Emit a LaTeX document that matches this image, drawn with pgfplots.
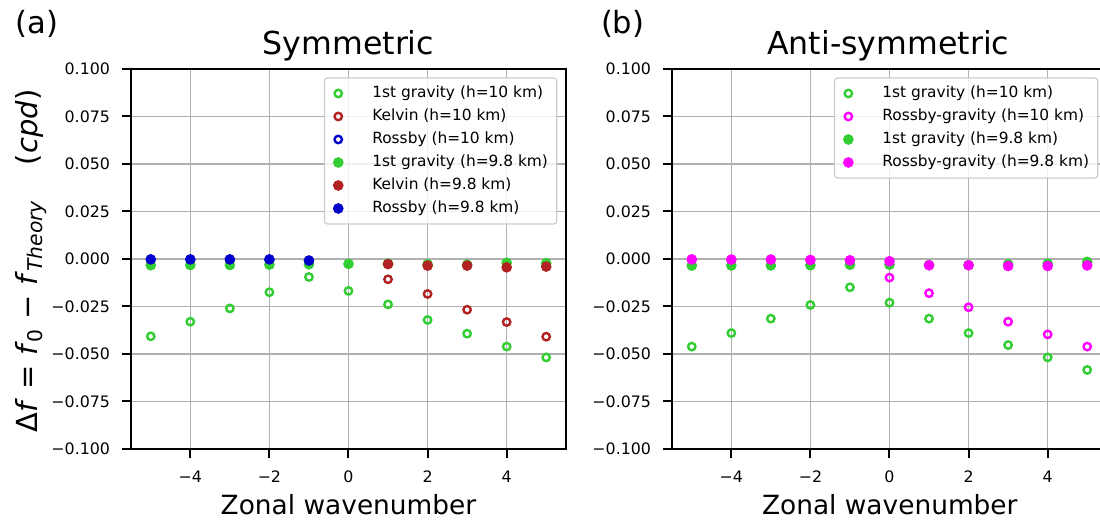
\documentclass[border=0pt]{standalone}
\usepackage{pgfplots}
\pgfplotsset{compat=1.18}
\usepackage{fontspec}
\setmainfont{DejaVu Sans}
\definecolor{lgreen}{RGB}{50,205,50}
\definecolor{fbrick}{RGB}{178,34,34}
\definecolor{mblue}{RGB}{0,0,205}
\definecolor{mgnt}{RGB}{255,0,255}
\definecolor{gridgray}{RGB}{176,176,176}
\newcommand{\tickfont}{\fontsize{7.9}{9.5}\selectfont}
\newcommand{\legfont}{\fontsize{7.7}{9.2}\selectfont}
\newcommand{\labfont}{\fontsize{13.2}{16}\selectfont}
\newcommand{\ylabfont}{\fontsize{14.5}{17}\selectfont}
\newcommand{\titfont}{\fontsize{15.8}{19}\selectfont}
\newcommand{\panfont}{\fontsize{15.3}{18}\selectfont}
\pgfplotsset{
  myaxis/.style={
    scale only axis, width=217.5pt, height=190pt,
    xmin=-5.5, xmax=5.5, ymin=-0.1, ymax=0.1,
    xtick={-4,-2,0,2,4}, xticklabels={−4,−2,0,2,4},
    ytick={-0.1,-0.075,-0.05,-0.025,0,0.025,0.05,0.075,0.1},
    yticklabels={−0.100,−0.075,−0.050,−0.025,0.000,0.025,0.050,0.075,0.100},
    grid=major, grid style={gridgray, line width=0.8pt},
    axis line style={line width=1.1pt},
    tick align=outside, major tick length=4.6pt, tick pos=left,
    tick style={black, line width=1.0pt},
    ticklabel style={font=\tickfont},
    yticklabel style={xshift=-2.4pt},
    xticklabel style={yshift=-2.8pt},
    legend cell align=left,
    legend image code/.code={\draw[mark repeat=2,mark phase=2,#1,fill opacity=1,draw opacity=1] plot coordinates {(0pt,0pt) (7pt,0pt) (14pt,0pt)};},
    legend style={at={(1,1)}, anchor=north east, xshift=-4.3pt, yshift=-4.2pt,
      draw=black!20, line width=0.6pt, fill=white, fill opacity=0.8, text opacity=1, draw opacity=1,
      rounded corners=1.5pt, font=\legfont, row sep=0.6pt, column sep=14.5pt, inner xsep=4.4pt, inner ysep=2.3pt,
      nodes={inner xsep=0pt, inner ysep=1.5pt, text height=6pt, text depth=1.9pt}},
  },
  opn/.style={only marks, mark=o, mark size=1.85pt, color=#1, mark options={line width=1.2pt}},
  fld/.style={only marks, mark=*, mark size=2.5pt, color=#1, mark options={line width=0.3pt}},
}
\begin{document}
\begin{tikzpicture}
\begin{axis}[myaxis, at={(65.5pt,37pt)}, anchor=south west]
\addplot[opn=lgreen] table {
x y
-5 -0.0407
-4 -0.0330
-3 -0.0260
-2 -0.0175
-1 -0.0095
0 -0.0168
1 -0.0239
2 -0.0321
3 -0.0393
4 -0.0461
5 -0.0518
};
\addlegendentry{1st gravity (h=10 km)}
\addplot[opn=fbrick] table {
x y
1 -0.0107
2 -0.0184
3 -0.0267
4 -0.0332
5 -0.0409
};
\addlegendentry{Kelvin (h=10 km)}
\addplot[opn=mblue] table {
x y
-5 -0.0004
-4 -0.0005
-3 -0.0006
-2 -0.0008
-1 -0.0015
};
\addlegendentry{Rossby (h=10 km)}
\addplot[fld=lgreen] table {
x y
-5 -0.0033
-4 -0.0032
-3 -0.0032
-2 -0.0030
-1 -0.0028
0 -0.0026
1 -0.0025
2 -0.0028
3 -0.0030
4 -0.0020
5 -0.0022
};
\addlegendentry{1st gravity (h=9.8 km)}
\addplot[fld=fbrick] table {
x y
1 -0.0027
2 -0.0035
3 -0.0035
4 -0.0044
5 -0.0040
};
\addlegendentry{Kelvin (h=9.8 km)}
\addplot[fld=mblue] table {
x y
-5 -0.0002
-4 -0.0002
-3 -0.0002
-2 -0.0002
-1 -0.0008
};
\addlegendentry{Rossby (h=9.8 km)}
\end{axis}
\begin{axis}[myaxis, at={(336pt,37pt)}, anchor=south west]
\addplot[opn=lgreen] table {
x y
-5 -0.0461
-4 -0.0390
-3 -0.0314
-2 -0.0242
-1 -0.0149
0 -0.0230
1 -0.0314
2 -0.0390
3 -0.0453
4 -0.0518
5 -0.0584
};
\addlegendentry{1st gravity (h=10 km)}
\addplot[opn=mgnt] table {
x y
-5 -0.0003
-4 -0.0004
-3 -0.0005
-2 -0.0007
-1 -0.0030
0 -0.0098
1 -0.0180
2 -0.0254
3 -0.0330
4 -0.0397
5 -0.0461
};
\addlegendentry{Rossby-gravity (h=10 km)}
\addplot[fld=lgreen] table {
x y
-5 -0.0035
-4 -0.0034
-3 -0.0034
-2 -0.0033
-1 -0.0030
0 -0.0030
1 -0.0032
2 -0.0032
3 -0.0028
4 -0.0025
5 -0.0015
};
\addlegendentry{1st gravity (h=9.8 km)}
\addplot[fld=mgnt] table {
x y
-5 -0.0002
-4 -0.0003
-3 -0.0003
-2 -0.0005
-1 -0.0007
0 -0.0012
1 -0.0033
2 -0.0033
3 -0.0037
4 -0.0037
5 -0.0034
};
\addlegendentry{Rossby-gravity (h=9.8 km)}
\end{axis}
\node[font=\titfont, anchor=base] at (174.25pt,234pt) {Symmetric};
\node[font=\titfont, anchor=base] at (444.1pt,234pt) {Anti-symmetric};
\node[font=\panfont, anchor=base west, inner sep=0pt] at (7.5pt,244.5pt) {(a)};
\node[font=\panfont, anchor=base west, inner sep=0pt] at (300.3pt,244.5pt) {(b)};
\node[font=\labfont, anchor=base] at (174.25pt,4.35pt) {Zonal wavenumber};
\node[font=\labfont, anchor=base] at (444.9pt,4.35pt) {Zonal wavenumber};
\node[font=\ylabfont, anchor=base, rotate=90] at (18.65pt,131pt) {Δ\textit{f} = \textit{f}\textsubscript{0} − \textit{f}\textsubscript{\textit{Theory}}\hspace{1.2em}(\textit{cpd})};
\pgfresetboundingbox
\path (0,0) rectangle (550pt,261.5pt);
\end{tikzpicture}
\end{document}
